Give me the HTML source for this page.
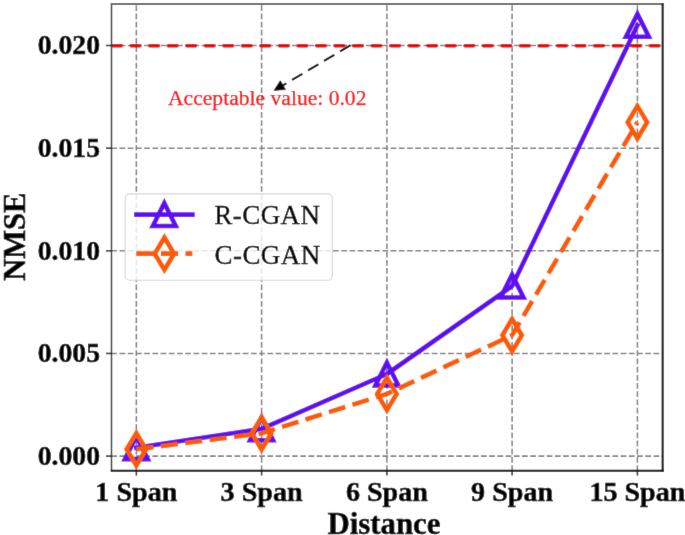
<!DOCTYPE html>
<html><head><meta charset="utf-8"><style>html,body{margin:0;padding:0;background:#fff;overflow:hidden}svg{display:block}</style></head>
<body><svg width="685" height="535" viewBox="0 0 685 535">
<defs><filter id="bl" x="0" y="0" width="685" height="535" filterUnits="userSpaceOnUse"><feConvolveMatrix order="3" kernelMatrix="0.00717 0.08466 0.00717 0.08466 1.00000 0.08466 0.00717 0.08466 0.00717" divisor="1.36730" edgeMode="duplicate"/></filter><clipPath id="ax"><rect x="111.3" y="4.0" width="551.40" height="466.60"/></clipPath></defs>
<g filter="url(#bl)">
<rect x="0" y="0" width="685" height="535" fill="#fff"/>
<g clip-path="url(#ax)">
<line x1="136.35" y1="470.6" x2="136.35" y2="4.0" stroke="#828282" stroke-width="1.55" stroke-dasharray="5.735 2.48" stroke-dashoffset="0.4"/>
<line x1="261.6" y1="470.6" x2="261.6" y2="4.0" stroke="#828282" stroke-width="1.55" stroke-dasharray="5.735 2.48" stroke-dashoffset="0.4"/>
<line x1="386.9" y1="470.6" x2="386.9" y2="4.0" stroke="#828282" stroke-width="1.55" stroke-dasharray="5.735 2.48" stroke-dashoffset="0.4"/>
<line x1="512.1" y1="470.6" x2="512.1" y2="4.0" stroke="#828282" stroke-width="1.55" stroke-dasharray="5.735 2.48" stroke-dashoffset="0.4"/>
<line x1="637.4" y1="470.6" x2="637.4" y2="4.0" stroke="#828282" stroke-width="1.55" stroke-dasharray="5.735 2.48" stroke-dashoffset="0.4"/>
<line x1="111.3" y1="456.1" x2="662.7" y2="456.1" stroke="#828282" stroke-width="1.55" stroke-dasharray="5.735 2.48"/>
<line x1="111.3" y1="353.45" x2="662.7" y2="353.45" stroke="#828282" stroke-width="1.55" stroke-dasharray="5.735 2.48"/>
<line x1="111.3" y1="250.8" x2="662.7" y2="250.8" stroke="#828282" stroke-width="1.55" stroke-dasharray="5.735 2.48"/>
<line x1="111.3" y1="148.15" x2="662.7" y2="148.15" stroke="#828282" stroke-width="1.55" stroke-dasharray="5.735 2.48"/>
<line x1="111.3" y1="45.5" x2="662.7" y2="45.5" stroke="#828282" stroke-width="1.55" stroke-dasharray="5.735 2.48"/>
<line x1="111.3" y1="45.75" x2="662.7" y2="45.75" stroke="#e60000" stroke-width="3.5" stroke-linecap="round" stroke-dasharray="8.70 9.84" stroke-dashoffset="-1.35"/>
<line x1="350.3" y1="45.3" x2="281.90" y2="86.00" stroke="#000" stroke-width="2" stroke-dasharray="12 6.6"/>
<path d="M274.05,90.4L280.3,80.7L285.5,89.5Z" fill="#000" stroke="#000" stroke-width="0.6" stroke-linejoin="miter"/>
<polyline points="136.35,447.65 261.6,428.85 386.9,374.0 512.1,286.1 637.4,25.37" fill="none" stroke="#6010f2" stroke-width="4.6" stroke-linejoin="round" stroke-linecap="square"/>
<path d="M136.35,436.20L124.90,459.10L147.80,459.10Z" fill="none" stroke="#6010f2" stroke-width="4.6" stroke-linejoin="miter" stroke-miterlimit="10"/>
<path d="M261.60,417.40L250.15,440.30L273.05,440.30Z" fill="none" stroke="#6010f2" stroke-width="4.6" stroke-linejoin="miter" stroke-miterlimit="10"/>
<path d="M386.90,362.55L375.45,385.45L398.35,385.45Z" fill="none" stroke="#6010f2" stroke-width="4.6" stroke-linejoin="miter" stroke-miterlimit="10"/>
<path d="M512.10,274.65L500.65,297.55L523.55,297.55Z" fill="none" stroke="#6010f2" stroke-width="4.6" stroke-linejoin="miter" stroke-miterlimit="10"/>
<path d="M637.40,13.92L625.95,36.82L648.85,36.82Z" fill="none" stroke="#6010f2" stroke-width="4.6" stroke-linejoin="miter" stroke-miterlimit="10"/>
<polyline points="136.35,449.3 261.6,433.3 386.9,393.9 512.1,335.2 637.4,122.25" fill="none" stroke="#ff5a00" stroke-width="4.6" stroke-linejoin="round" stroke-dasharray="17.18 7.43"/>
<path d="M136.35,433.11L146.07,449.30L136.35,465.49L126.63,449.30Z" fill="none" stroke="#ff5a00" stroke-width="4.6" stroke-linejoin="miter" stroke-miterlimit="10"/>
<path d="M261.60,417.11L271.32,433.30L261.60,449.49L251.88,433.30Z" fill="none" stroke="#ff5a00" stroke-width="4.6" stroke-linejoin="miter" stroke-miterlimit="10"/>
<path d="M386.90,377.71L396.62,393.90L386.90,410.09L377.18,393.90Z" fill="none" stroke="#ff5a00" stroke-width="4.6" stroke-linejoin="miter" stroke-miterlimit="10"/>
<path d="M512.10,319.01L521.82,335.20L512.10,351.39L502.38,335.20Z" fill="none" stroke="#ff5a00" stroke-width="4.6" stroke-linejoin="miter" stroke-miterlimit="10"/>
<path d="M637.40,106.06L647.12,122.25L637.40,138.44L627.68,122.25Z" fill="none" stroke="#ff5a00" stroke-width="4.6" stroke-linejoin="miter" stroke-miterlimit="10"/>
</g>
<text x="168" y="105.1" font-family="Liberation Serif, serif" font-size="21.6" fill="#ff0000" stroke="#ff0000" stroke-width="0.25">Acceptable value: 0.02</text>
<line x1="111.5" y1="3.0" x2="111.5" y2="471.6" stroke="#3a3a3a" stroke-width="1.5"/>
<line x1="110.8" y1="4.0" x2="662.2" y2="4.0" stroke="#6c6c6c" stroke-width="2"/>
<line x1="662.6500000000001" y1="3.0" x2="662.6500000000001" y2="471.70000000000005" stroke="#000" stroke-width="2.0"/>
<line x1="110.8" y1="470.70000000000005" x2="663.6500000000001" y2="470.70000000000005" stroke="#000" stroke-width="2.0"/>
<line x1="136.35" y1="470.6" x2="136.35" y2="475.6" stroke="#222" stroke-width="1.5"/>
<line x1="261.6" y1="470.6" x2="261.6" y2="475.6" stroke="#222" stroke-width="1.5"/>
<line x1="386.9" y1="470.6" x2="386.9" y2="475.6" stroke="#222" stroke-width="1.5"/>
<line x1="512.1" y1="470.6" x2="512.1" y2="475.6" stroke="#222" stroke-width="1.5"/>
<line x1="637.4" y1="470.6" x2="637.4" y2="475.6" stroke="#222" stroke-width="1.5"/>
<line x1="111.3" y1="456.1" x2="106.0" y2="456.1" stroke="#222" stroke-width="1.5"/>
<line x1="111.3" y1="353.45" x2="106.0" y2="353.45" stroke="#222" stroke-width="1.5"/>
<line x1="111.3" y1="250.8" x2="106.0" y2="250.8" stroke="#222" stroke-width="1.5"/>
<line x1="111.3" y1="148.15" x2="106.0" y2="148.15" stroke="#222" stroke-width="1.5"/>
<line x1="111.3" y1="45.5" x2="106.0" y2="45.5" stroke="#222" stroke-width="1.5"/>
<text x="100" y="464.90" text-anchor="end" font-family="Liberation Serif, serif" font-weight="bold" stroke="#000" stroke-width="0.5" font-size="27.7">0.000</text>
<text x="100" y="362.25" text-anchor="end" font-family="Liberation Serif, serif" font-weight="bold" stroke="#000" stroke-width="0.5" font-size="27.7">0.005</text>
<text x="100" y="259.60" text-anchor="end" font-family="Liberation Serif, serif" font-weight="bold" stroke="#000" stroke-width="0.5" font-size="27.7">0.010</text>
<text x="100" y="156.95" text-anchor="end" font-family="Liberation Serif, serif" font-weight="bold" stroke="#000" stroke-width="0.5" font-size="27.7">0.015</text>
<text x="100" y="54.30" text-anchor="end" font-family="Liberation Serif, serif" font-weight="bold" stroke="#000" stroke-width="0.5" font-size="27.7">0.020</text>
<text x="136.35" y="500.6" text-anchor="middle" font-family="Liberation Serif, serif" font-weight="bold" stroke="#000" stroke-width="0.5" font-size="28.1">1 Span</text>
<text x="261.6" y="500.6" text-anchor="middle" font-family="Liberation Serif, serif" font-weight="bold" stroke="#000" stroke-width="0.5" font-size="28.1">3 Span</text>
<text x="386.9" y="500.6" text-anchor="middle" font-family="Liberation Serif, serif" font-weight="bold" stroke="#000" stroke-width="0.5" font-size="28.1">6 Span</text>
<text x="512.1" y="500.6" text-anchor="middle" font-family="Liberation Serif, serif" font-weight="bold" stroke="#000" stroke-width="0.5" font-size="28.1">9 Span</text>
<text x="637.4" y="500.6" text-anchor="middle" font-family="Liberation Serif, serif" font-weight="bold" stroke="#000" stroke-width="0.5" font-size="28.1">15 Span</text>
<text x="384" y="533.9" text-anchor="middle" font-family="Liberation Serif, serif" font-weight="bold" stroke="#000" stroke-width="0.5" font-size="30.8">Distance</text>
<text transform="translate(25.2,236.7) rotate(-90)" text-anchor="middle" font-family="Liberation Serif, serif" font-weight="bold" stroke="#000" stroke-width="0.5" font-size="30.5">NMSE</text>
<rect x="125.2" y="193.9" width="207.1" height="86.3" rx="4.2" fill="#fff" fill-opacity="0.8" stroke="#d6d6d6" stroke-width="1.1"/>
<line x1="136.4" y1="214.6" x2="192.4" y2="214.6" stroke="#6010f2" stroke-width="4.6" stroke-linecap="square"/>
<path d="M164.30,203.15L152.85,226.05L175.75,226.05Z" fill="none" stroke="#6010f2" stroke-width="4.6" stroke-linejoin="miter" stroke-miterlimit="10"/>
<line x1="136.3" y1="253.6" x2="192.4" y2="253.6" stroke="#ff5a00" stroke-width="4.6" stroke-dasharray="17.18 7.43"/>
<path d="M164.40,237.51L174.12,253.70L164.40,269.89L154.68,253.70Z" fill="none" stroke="#ff5a00" stroke-width="4.6" stroke-linejoin="miter" stroke-miterlimit="10"/>
<text x="214.3" y="224.3" font-family="Liberation Serif, serif" font-size="27" letter-spacing="0.45" stroke="#000" stroke-width="0.35">R-CGAN</text>
<text x="214.5" y="263.5" font-family="Liberation Serif, serif" font-size="27" letter-spacing="0.45" stroke="#000" stroke-width="0.35">C-CGAN</text>
</g></svg></body></html>
